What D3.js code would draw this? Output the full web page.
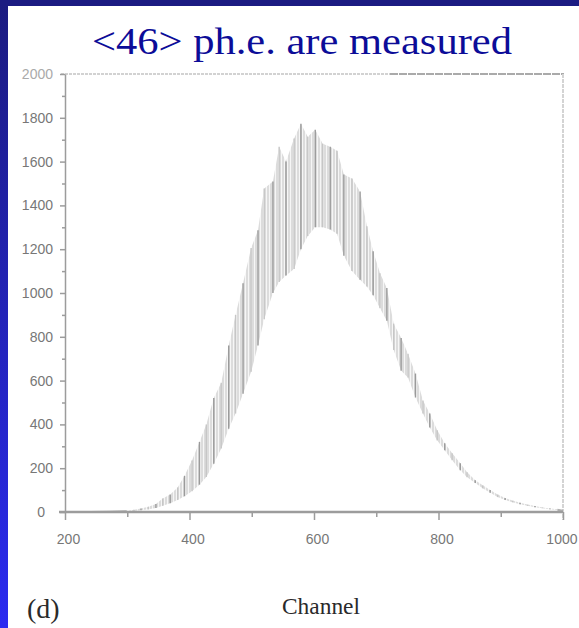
<!DOCTYPE html>
<html><head><meta charset="utf-8">
<script src="https://cdn.jsdelivr.net/npm/d3@7"></script>
<style>html,body{margin:0;padding:0;background:#fff;}svg{display:block;}</style>
</head><body>
<script>
// ---- data ----
const titleText = "<46> ph.e. are measured";
const xLabel = "Channel";
const panelLabel = "(d)";
const xTicks = [200, 400, 600, 800, 1000];
const xMinorTicks = [300, 500, 700, 900];
const yTicks = [0, 200, 400, 600, 800, 1000, 1200, 1400, 1600, 1800, 2000];
const yMinorTicks = [100, 300, 500, 700, 900, 1100, 1300, 1500, 1700, 1900];
// photo-electron peaks: channel, top of spike, bottom of valley
const spikeCh = [299,311,322,334,346,357,369,381,392,404,416,427,439,451,463,474,486,499,510,520,534,544,555,568,579,590,602,614,626,637,648,661,674,685,695,706,717,728,740,751,763,775,786,798,810,822,835,846,859,871,883,895,907,919,931,943,955,967,979,991];
const spikeTop = [5,10,16,24,36,62,80,112,165,235,320,400,520,590,760,900,1045,1205,1286,1477,1509,1668,1600,1705,1773,1714,1745,1682,1668,1650,1541,1523,1464,1305,1191,1090,1023,860,795,723,632,509,450,373,314,268,223,182,145,122,100,80,64,52,42,34,27,21,16,12];
const spikeBottom = [1,4,8,12,18,28,40,55,72,95,125,160,220,290,380,450,540,640,760,880,1000,1050,1080,1110,1200,1260,1300,1300,1290,1270,1170,1100,1060,1030,990,930,873,740,645,614,523,450,386,327,282,236,191,159,132,108,88,68,55,44,35,28,22,17,13,9];
const tailLeftCh = [200, 240, 270, 285, 299];
const tailLeftVal = [0, 0, 1, 2, 3];
const tailRightCh = [991, 1000];
const tailRightVal = [10, 6];

const W = 579, H = 628;
const svg = d3.select("body").append("svg").attr("width", W).attr("height", H);
const defs = svg.append("defs");
const grad = defs.append("linearGradient").attr("id","blueSide").attr("x1",0).attr("y1",0).attr("x2",0).attr("y2",1);
grad.append("stop").attr("offset","0%").attr("stop-color","#1b1b80");
grad.append("stop").attr("offset","100%").attr("stop-color","#2b2bf0");
const pat = defs.append("pattern").attr("id","hatch").attr("patternUnits","userSpaceOnUse").attr("width",3).attr("height",2);
pat.append("rect").attr("width",3).attr("height",2).attr("fill","#f6f6f6");
pat.append("rect").attr("width",2).attr("height",2).attr("fill","#dcdcdc");

svg.append("rect").attr("width",W).attr("height",H).attr("fill","#fff");
svg.append("rect").attr("x",0).attr("y",0).attr("width",8).attr("height",H).attr("fill","url(#blueSide)");
svg.append("rect").attr("x",0).attr("y",0).attr("width",W).attr("height",6).attr("fill","#1b1b82");

const x = d3.scaleLinear().domain([200, 1000]).range([65, 563]);
const y = d3.scaleLinear().domain([0, 2000]).range([512, 74]);

// title
svg.append("text").attr("x", 92).attr("y", 54)
  .attr("textLength", 420).attr("lengthAdjust","spacingAndGlyphs")
  .attr("font-family","'Liberation Serif', 'Times New Roman', serif").attr("font-size",37)
  .attr("fill","#0c0c98").text(titleText);

// frame top + right
svg.append("line").attr("x1",61).attr("x2",390).attr("y1",74).attr("y2",74)
  .attr("stroke","#d2d2d2").attr("stroke-width",2).attr("stroke-dasharray","3,1");
svg.append("line").attr("x1",390).attr("x2",564).attr("y1",74).attr("y2",74)
  .attr("stroke","#aaaaaa").attr("stroke-width",2).attr("stroke-dasharray","8,1");
svg.append("line").attr("x1",563).attr("x2",563).attr("y1",74).attr("y2",520)
  .attr("stroke","#d4d4d4").attr("stroke-width",2).attr("stroke-dasharray","4,1");

// data band
const pts = spikeCh.map((c,i)=>({c, t:spikeTop[i], b:spikeBottom[i]}));
svg.append("path").datum(pts)
  .attr("d", d3.area().x(d=>x(d.c)).y0(d=>y(d.b)).y1(d=>y(d.t)))
  .attr("fill","url(#hatch)");
// tails
const line = d3.line().x(d=>x(d[0])).y(d=>y(d[1]));
svg.append("path").datum(tailLeftCh.map((c,i)=>[c, tailLeftVal[i]]))
  .attr("d", line).attr("fill","none").attr("stroke","#a8a8a8").attr("stroke-width",2);
svg.append("path").datum(tailRightCh.map((c,i)=>[c, tailRightVal[i]]))
  .attr("d", line).attr("fill","none").attr("stroke","#b0b0b0").attr("stroke-width",2);
// spikes
svg.append("g").selectAll("line").data(pts).join("line")
  .attr("x1", d=>x(d.c)).attr("x2", d=>x(d.c))
  .attr("y1", d=>y(d.b)).attr("y2", d=>y(d.t))
  .attr("stroke", (d,i)=> i%2 ? "#c6c6c6" : "#9a9a9a").attr("stroke-width",1.4);

// axes
const axisColor = "#9c9c9c";
const fmt = d3.format("d");
const gy = svg.append("g").attr("transform","translate(65,0)")
  .call(d3.axisLeft(y).tickValues(yTicks).tickSize(5).tickPadding(7).tickSizeOuter(0).tickFormat(fmt));
svg.append("g").attr("transform","translate(65,0)")
  .call(d3.axisLeft(y).tickValues(yMinorTicks).tickSize(3).tickFormat("").tickSizeOuter(0))
  .select(".domain").remove();
const gx = svg.append("g").attr("transform","translate(0,512)")
  .call(d3.axisBottom(x).tickValues(xTicks).tickSize(8).tickPadding(14).tickSizeOuter(0).tickFormat(fmt));
svg.append("g").attr("transform","translate(0,512)")
  .call(d3.axisBottom(x).tickValues(xMinorTicks).tickSize(5).tickFormat("").tickSizeOuter(0))
  .select(".domain").remove();
gx.select(".domain").remove();
svg.append("line").attr("x1",59).attr("x2",563).attr("y1",512).attr("y2",512)
  .attr("stroke",axisColor).attr("stroke-width",2.5);
svg.selectAll(".tick line").attr("stroke",axisColor).attr("stroke-width",1.5);
gy.select(".domain").attr("stroke",axisColor).attr("stroke-width",1.5);
svg.selectAll(".tick text").attr("font-family","'Liberation Sans Narrow', 'Liberation Sans', Arial, sans-serif")
  .attr("font-size",14).attr("fill","#777");
gx.selectAll(".tick text").attr("dx", 3);
gx.selectAll(".tick text").filter(d=>d===1000).attr("text-anchor","end").attr("dx", 14);
gy.selectAll(".tick text").filter(d=>d===0).attr("dx",-8);
gy.selectAll(".tick text").filter(d=>d===2000).attr("fill","#aaa");

// labels
svg.append("text").attr("x", 321).attr("y", 614).attr("text-anchor","middle")
  .attr("font-family","'Liberation Serif', 'Times New Roman', serif").attr("font-size",23)
  .attr("textLength",78).attr("lengthAdjust","spacingAndGlyphs")
  .attr("fill","#2a2a2a").text(xLabel);
svg.append("text").attr("x", 27).attr("y", 618)
  .attr("font-family","'Liberation Serif', 'Times New Roman', serif").attr("font-size",28)
  .attr("fill","#2a2a2a").text(panelLabel);
</script>
</body></html>
